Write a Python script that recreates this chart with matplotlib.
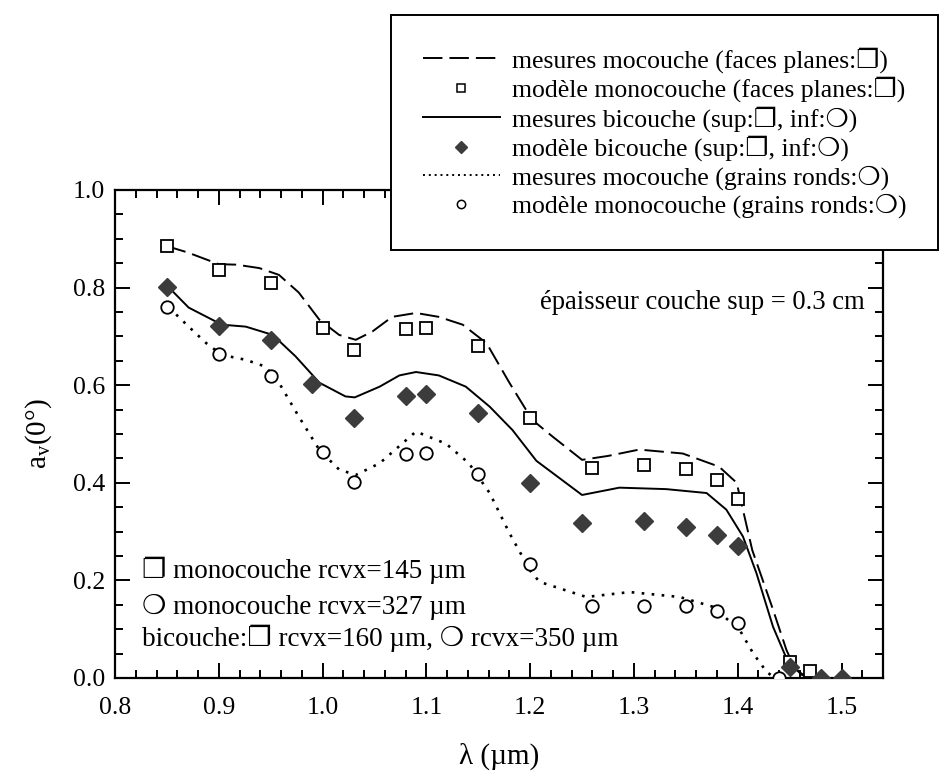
import numpy as np
import matplotlib
matplotlib.use("Agg")
import matplotlib.pyplot as plt
from matplotlib.lines import Line2D
from matplotlib.ticker import MultipleLocator

plt.rcParams['font.family'] = ['Liberation Serif', 'DejaVu Sans']
plt.rcParams['mathtext.fontset'] = 'custom'
plt.rcParams['mathtext.rm'] = 'Liberation Serif'

# --- data ---
# curve: mesures monocouche (faces planes)
lam_plan = [0.85, 0.87, 0.90, 0.917, 0.939, 0.958, 0.977, 0.997, 1.016, 1.032, 1.048, 1.067,
            1.09, 1.112, 1.135, 1.158, 1.18, 1.202, 1.222, 1.25, 1.275, 1.305, 1.347, 1.382,
            1.399, 1.414, 1.434, 1.447, 1.455, 1.462, 1.475, 1.49]
mes_plan = [0.885, 0.872, 0.848, 0.847, 0.84, 0.826, 0.79, 0.734, 0.703, 0.693, 0.71, 0.74,
            0.748, 0.74, 0.724, 0.686, 0.605, 0.529, 0.494, 0.447, 0.455, 0.468, 0.46, 0.433,
            0.40, 0.262, 0.14, 0.057, 0.02, 0.006, 0.0, 0.0]

# curve: mesures bicouche
lam_bi = [0.852, 0.871, 0.903, 0.926, 0.952, 0.974, 0.997, 1.022, 1.031, 1.055, 1.074, 1.09,
          1.112, 1.138, 1.161, 1.183, 1.206, 1.25, 1.286, 1.331, 1.37, 1.389, 1.405, 1.418,
          1.434, 1.449, 1.462, 1.475, 1.49]
mes_bi = [0.80, 0.759, 0.724, 0.72, 0.703, 0.659, 0.605, 0.577, 0.575, 0.597, 0.62, 0.627,
          0.62, 0.597, 0.556, 0.508, 0.445, 0.375, 0.39, 0.387, 0.379, 0.345, 0.29, 0.215,
          0.105, 0.03, 0.008, 0.0, 0.0]

# curve: mesures monocouche (grains ronds)
lam_rond = [0.852, 0.871, 0.888, 0.903, 0.926, 0.945, 0.958, 0.977, 0.997, 1.016, 1.032, 1.055,
            1.09, 1.119, 1.141, 1.161, 1.18, 1.20, 1.209, 1.254, 1.296, 1.344, 1.376, 1.402,
            1.415, 1.428, 1.436]
mes_rond = [0.759, 0.72, 0.686, 0.662, 0.652, 0.638, 0.605, 0.536, 0.467, 0.427, 0.416, 0.44,
            0.505, 0.48, 0.44, 0.379, 0.297, 0.22, 0.197, 0.166, 0.176, 0.166, 0.146, 0.098,
            0.05, 0.012, 0.0]

# model points
lam_mod_plan = [0.85, 0.90, 0.95, 1.00, 1.03, 1.08, 1.10, 1.15, 1.20, 1.26, 1.31, 1.35, 1.38,
                1.40, 1.45, 1.47]
mod_plan = [0.885, 0.837, 0.81, 0.718, 0.672, 0.716, 0.718, 0.68, 0.532, 0.43, 0.436, 0.428,
            0.406, 0.366, 0.033, 0.015]

lam_mod_bi = [0.85, 0.90, 0.95, 0.99, 1.03, 1.08, 1.10, 1.15, 1.20, 1.25, 1.31, 1.35, 1.38,
              1.40, 1.45, 1.48, 1.50]
mod_bi = [0.802, 0.722, 0.692, 0.602, 0.532, 0.577, 0.582, 0.542, 0.40, 0.317, 0.322, 0.309,
          0.294, 0.27, 0.022, 0.0, 0.0]

lam_mod_rond = [0.85, 0.90, 0.95, 1.00, 1.03, 1.08, 1.10, 1.15, 1.20, 1.26, 1.31, 1.35, 1.38,
                1.40, 1.44]
mod_rond = [0.76, 0.664, 0.618, 0.463, 0.402, 0.458, 0.462, 0.418, 0.234, 0.147, 0.148, 0.147,
            0.138, 0.113, 0.0]

labels = ["mesures mocouche (faces planes:❐)",
          "modèle monocouche (faces planes:❐)",
          "mesures bicouche (sup:❐, inf:❍)",
          "modèle bicouche (sup:❐, inf:❍)",
          "mesures mocouche (grains ronds:❍)",
          "modèle monocouche (grains ronds:❍)"]

fig = plt.figure(figsize=(9.41, 7.79), dpi=100)
ax = fig.add_axes([0.1222, 0.1297, 0.8162, 0.6264])

ax.plot(lam_plan, mes_plan, color='black', lw=1.4, linestyle=(0, (10, 3.6)))
ax.plot(lam_bi, mes_bi, color='black', lw=1.4, linestyle='-')
ax.plot(lam_rond, mes_rond, color='black', lw=1.9, linestyle=(0, (1, 2.8)))

ax.plot(lam_mod_plan, mod_plan, linestyle='none', marker='s', ms=9, mfc='white',
        mec='black', mew=1.3, zorder=3)
ax.plot(lam_mod_bi, mod_bi, linestyle='none', marker='D', ms=9.5, mfc='#3c3c3c',
        mec='#3c3c3c', zorder=3)
ax.plot(lam_mod_rond, mod_rond, linestyle='none', marker='o', ms=9, mfc='white',
        mec='black', mew=1.3, zorder=3)

ax.set_xlim(0.8, 1.54)
ax.set_ylim(0.0, 1.0)
ax.xaxis.set_major_locator(MultipleLocator(0.1))
ax.xaxis.set_minor_locator(MultipleLocator(0.02))
ax.yaxis.set_major_locator(MultipleLocator(0.2))
ax.yaxis.set_minor_locator(MultipleLocator(0.05))
ax.xaxis.set_major_formatter(plt.FuncFormatter(lambda v, p: "%.1f" % v))
ax.yaxis.set_major_formatter(plt.FuncFormatter(lambda v, p: "%.1f" % v))
ax.tick_params(which='both', direction='in', top=True, right=True, width=1.4)
ax.tick_params(which='major', length=11, labelsize=18.5)
ax.tick_params(axis='x', which='major', pad=14)
ax.tick_params(axis='y', which='major', pad=7)
ax.tick_params(which='minor', length=6)
for s in ax.spines.values():
    s.set_linewidth(1.6)

ax.set_xlabel("λ (µm)", fontsize=21, labelpad=17)
ax.set_ylabel(r"a$_\mathregular{v}$(0°)", fontsize=21, labelpad=14)

ax.text(1.522, 0.769, "épaisseur couche sup = 0.3 cm", fontsize=19.2, ha='right', va='center')
ax.text(0.826, 0.221, "❐ monocouche rcvx=145 µm", fontsize=19.5, ha='left', va='center')
ax.text(0.826, 0.146, "❍ monocouche rcvx=327 µm", fontsize=19.5, ha='left', va='center')
ax.text(0.826, 0.082, "bicouche:❐ rcvx=160 µm, ❍ rcvx=350 µm", fontsize=19.5, ha='left', va='center')

handles = [Line2D([], [], color='black', lw=1.4, linestyle=(0, (10, 3.6))),
           Line2D([], [], linestyle='none', marker='s', ms=6, mfc='white', mec='black', mew=1.1),
           Line2D([], [], color='black', lw=1.4),
           Line2D([], [], linestyle='none', marker='D', ms=6.5, mfc='#3c3c3c', mec='#3c3c3c'),
           Line2D([], [], color='black', lw=1.4, linestyle=(0, (1, 2))),
           Line2D([], [], linestyle='none', marker='o', ms=6, mfc='white', mec='black', mew=1.1)]
leg = fig.legend(handles, labels, loc='upper right', bbox_to_anchor=(0.997, 0.981),
                 fontsize=18.5, frameon=True, fancybox=False, edgecolor='black',
                 framealpha=1, handlelength=3.0, handletextpad=0.45, labelspacing=0.15,
                 borderpad=1.25, borderaxespad=0)
leg.get_frame().set_linewidth(1.4)

fig.savefig("out.png", dpi=100)
